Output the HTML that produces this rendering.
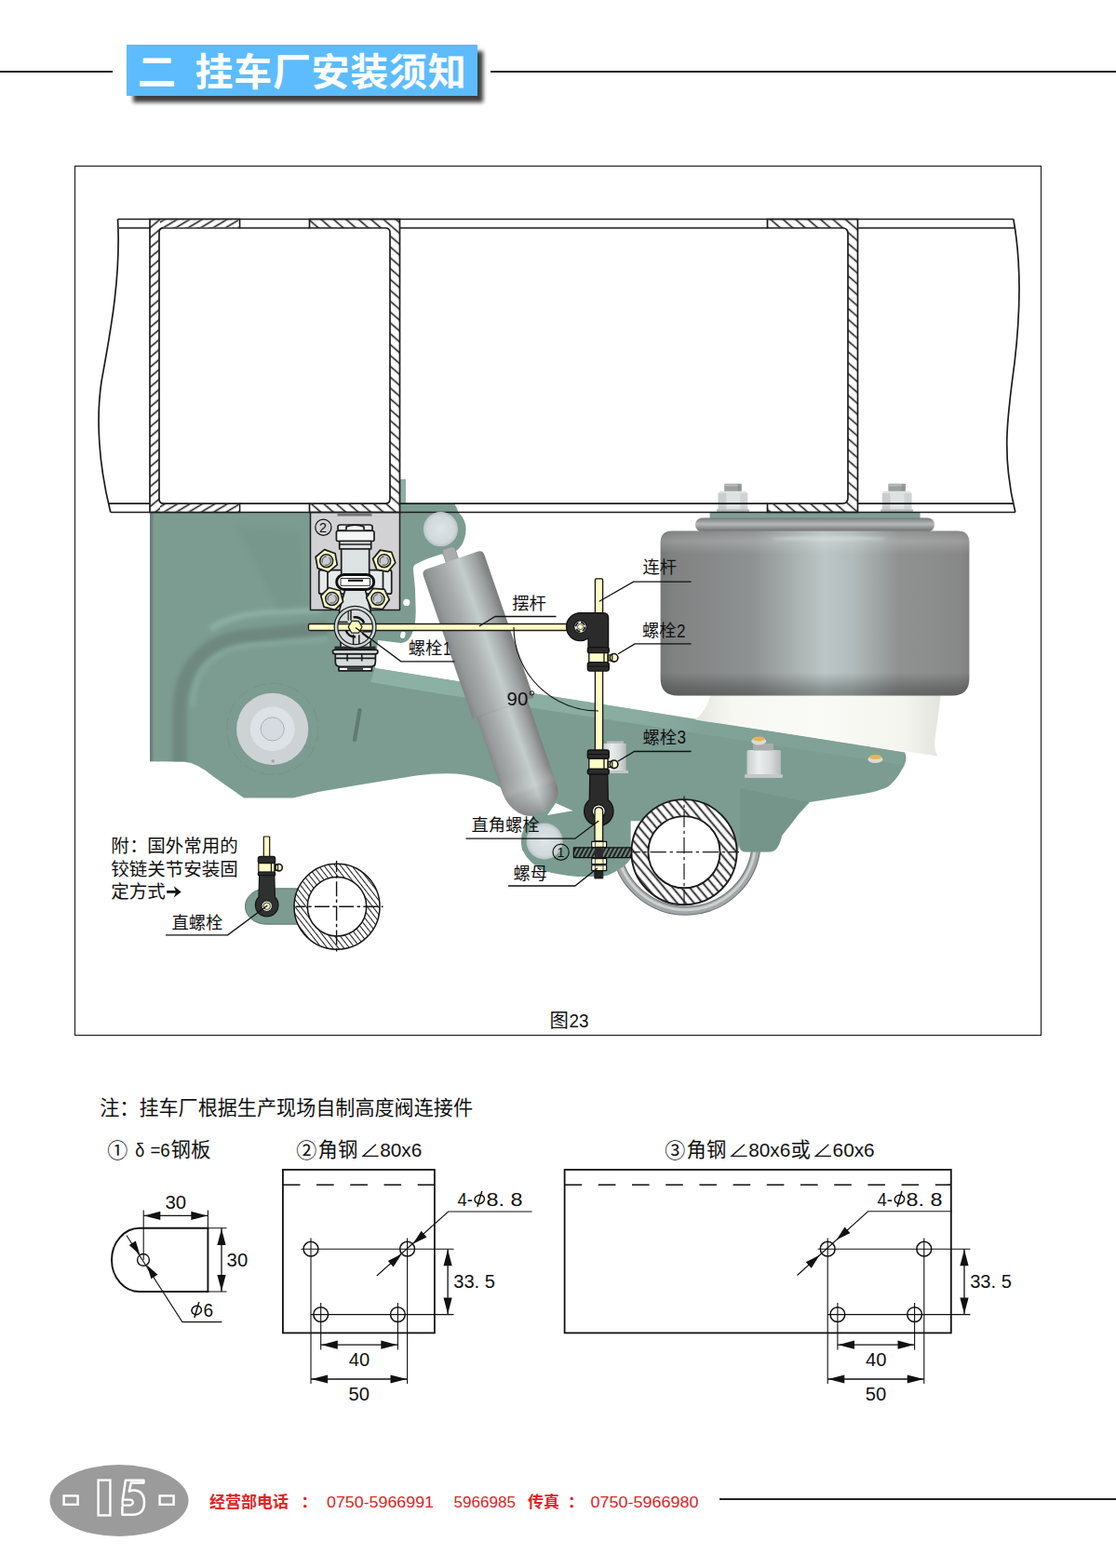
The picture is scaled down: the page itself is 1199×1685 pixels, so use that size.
<!DOCTYPE html>
<html lang="zh"><head><meta charset="utf-8"><title>二 挂车厂安装须知</title>
<style>
html,body{margin:0;padding:0;background:#fff}
body{width:1199px;height:1685px;overflow:hidden;font-family:"Liberation Sans","Noto Sans CJK SC",sans-serif}
svg{display:block}
svg text{font-family:"Liberation Sans","Noto Sans CJK SC",sans-serif}
</style></head><body>
<svg width="1199" height="1685" viewBox="0 0 1199 1685">
<defs>
<filter id="blur3" x="-10%" y="-20%" width="120%" height="150%"><feGaussianBlur stdDeviation="2.2"/></filter>
<pattern id="hL" patternUnits="userSpaceOnUse" width="8.20" height="8.20" patternTransform="rotate(-40.0)"><rect width="8.20" height="8.20" fill="#fff"/><line x1="0" y1="4.10" x2="8.20" y2="4.10" stroke="#1c1c1c" stroke-width="1.60"/></pattern><pattern id="hTL" patternUnits="userSpaceOnUse" width="6.90" height="6.90" patternTransform="rotate(-31.0)"><rect width="6.90" height="6.90" fill="#fff"/><line x1="0" y1="3.45" x2="6.90" y2="3.45" stroke="#1c1c1c" stroke-width="1.60"/></pattern><pattern id="hR" patternUnits="userSpaceOnUse" width="8.80" height="8.80" patternTransform="rotate(41.0)"><rect width="8.80" height="8.80" fill="#fff"/><line x1="0" y1="4.40" x2="8.80" y2="4.40" stroke="#1c1c1c" stroke-width="1.60"/></pattern><pattern id="hTR" patternUnits="userSpaceOnUse" width="7.60" height="7.60" patternTransform="rotate(35.0)"><rect width="7.60" height="7.60" fill="#fff"/><line x1="0" y1="3.80" x2="7.60" y2="3.80" stroke="#1c1c1c" stroke-width="1.60"/></pattern><pattern id="hAx" patternUnits="userSpaceOnUse" width="7.00" height="7.00" patternTransform="rotate(50.0)"><rect width="7.00" height="7.00" fill="#fff"/><line x1="0" y1="3.50" x2="7.00" y2="3.50" stroke="#1c1c1c" stroke-width="1.80"/></pattern><pattern id="hAx2" patternUnits="userSpaceOnUse" width="4.70" height="4.70" patternTransform="rotate(52.0)"><rect width="4.70" height="4.70" fill="#fff"/><line x1="0" y1="2.35" x2="4.70" y2="2.35" stroke="#1a1a1a" stroke-width="1.00"/></pattern><pattern id="hPl" patternUnits="userSpaceOnUse" width="4" height="4" patternTransform="rotate(-62)"><rect width="4" height="4" fill="#6d877e"/><line x1="0" y1="2" x2="4" y2="2" stroke="#111" stroke-width="1.7"/></pattern><linearGradient id="gAir" x1="0" x2="1" y1="0" y2="0"><stop offset="0" stop-color="#777"/><stop offset="0.04" stop-color="#808282"/><stop offset="0.3" stop-color="#8f9292"/><stop offset="0.53" stop-color="#bcc6c6"/><stop offset="0.62" stop-color="#b2bbbb"/><stop offset="0.77" stop-color="#909292"/><stop offset="0.97" stop-color="#888"/><stop offset="1" stop-color="#808080"/></linearGradient><linearGradient id="gAirV" x1="0" x2="0" y1="0" y2="1"><stop offset="0" stop-color="#fff" stop-opacity="0.0"/><stop offset="0.06" stop-color="#fff" stop-opacity="0.18"/><stop offset="0.14" stop-color="#fff" stop-opacity="0"/><stop offset="0.86" stop-color="#000" stop-opacity="0"/><stop offset="0.95" stop-color="#000" stop-opacity="0.22"/><stop offset="1" stop-color="#000" stop-opacity="0.3"/></linearGradient><linearGradient id="gBead" x1="0" x2="0" y1="0" y2="1"><stop offset="0" stop-color="#777"/><stop offset="0.45" stop-color="#b5b9b9"/><stop offset="1" stop-color="#6a6a6a"/></linearGradient><linearGradient id="gShock" x1="0" x2="1" y1="0" y2="0"><stop offset="0" stop-color="#838585"/><stop offset="0.1" stop-color="#949797"/><stop offset="0.35" stop-color="#a9adad"/><stop offset="0.6" stop-color="#c4cccc"/><stop offset="0.85" stop-color="#9c9f9f"/><stop offset="1" stop-color="#7a7b7b"/></linearGradient><linearGradient id="gShock2" gradientUnits="userSpaceOnUse" x1="-30.3" x2="27.6" y1="0" y2="0"><stop offset="0" stop-color="#878989"/><stop offset="0.1" stop-color="#979a9a"/><stop offset="0.35" stop-color="#abafaf"/><stop offset="0.62" stop-color="#c4cccc"/><stop offset="0.86" stop-color="#9c9f9f"/><stop offset="1" stop-color="#7d7e7e"/></linearGradient><linearGradient id="gDome" gradientUnits="userSpaceOnUse" x1="0" x2="0" y1="240" y2="289"><stop offset="0" stop-color="#fff" stop-opacity="0"/><stop offset="0.35" stop-color="#fff" stop-opacity="0.12"/><stop offset="0.55" stop-color="#666" stop-opacity="0.05"/><stop offset="1" stop-color="#555" stop-opacity="0.45"/></linearGradient><linearGradient id="gPiston" x1="0" x2="1" y1="0" y2="0"><stop offset="0" stop-color="#e6e6e0"/><stop offset="0.15" stop-color="#f8f8f3"/><stop offset="0.5" stop-color="#fafaf6"/><stop offset="0.85" stop-color="#f5f5ef"/><stop offset="1" stop-color="#e2e2de"/></linearGradient><linearGradient id="gUb" x1="0" x2="1" y1="0" y2="0"><stop offset="0" stop-color="#8c8f8f"/><stop offset="0.5" stop-color="#c9cccc"/><stop offset="1" stop-color="#8c8f8f"/></linearGradient><radialGradient id="gBolt" cx="0.5" cy="0.5" r="0.5"><stop offset="0" stop-color="#dfe5e8"/><stop offset="0.8" stop-color="#d0d8da"/><stop offset="1" stop-color="#b9c4c4"/></radialGradient><linearGradient id="gNut" x1="0" x2="1" y1="0" y2="0"><stop offset="0" stop-color="#c9cdcd"/><stop offset="0.35" stop-color="#eceeee"/><stop offset="0.7" stop-color="#d6dada"/><stop offset="1" stop-color="#b5baba"/></linearGradient><linearGradient id="gBand" gradientUnits="userSpaceOnUse" x1="400" x2="980" y1="0" y2="0"><stop offset="0" stop-color="#8fb2a6" stop-opacity="0.95"/><stop offset="0.5" stop-color="#8db0a4" stop-opacity="0.8"/><stop offset="0.62" stop-color="#8db0a4" stop-opacity="0.3"/><stop offset="1" stop-color="#8db0a4" stop-opacity="0.25"/></linearGradient><filter id="soft" x="-20%" y="-20%" width="140%" height="140%"><feGaussianBlur stdDeviation="3"/></filter><filter id="soft2" x="-20%" y="-20%" width="140%" height="140%"><feGaussianBlur stdDeviation="2"/></filter><filter id="soft1" x="-20%" y="-20%" width="140%" height="140%"><feGaussianBlur stdDeviation="1.2"/></filter>
</defs>
<rect width="1199" height="1685" fill="#fff"/>
<g id="header">
<rect x="0" y="76" width="121" height="2" fill="#222"/>
<rect x="527" y="76" width="672" height="2" fill="#222"/>
<rect x="143" y="55" width="376" height="55" fill="#2a2a2a" filter="url(#blur3)" opacity="0.9"/>
<rect x="136" y="48" width="377" height="55" fill="#5cbcfd"/>
</g>
<text x="148" y="92" font-size="41" font-weight="bold" fill="#fff">二</text>
<text x="209.5" y="92" font-size="41" font-weight="bold" fill="#fff" textLength="291.2" lengthAdjust="spacing">挂车厂安装须知</text>
<rect x="80.5" y="178.5" width="1038" height="934" fill="none" stroke="#222" stroke-width="1.2"/>
<path d="M662.6,918 A75.9,75.9 0 0 0 812.6,909" fill="none" stroke="#6f7272" stroke-width="10"/>
<path d="M662.6,918 A75.9,75.9 0 0 0 812.6,909" fill="none" stroke="#a3a7a7" stroke-width="8"/>
<path d="M663.6,918 A74.9,74.9 0 0 0 811.6,909" fill="none" stroke="#cdd1d1" stroke-width="3"/>
<g id="green">
<rect x="430" y="515" width="6" height="37" fill="#8db0a4"/>
<path d="M161,550.5 L430,550.5 L430,541.2 L488,541.2 Q491,545 492.5,550.7 C498,556 501,562 500.5,570 C500,580 496,588 490,592 L480,596 L474,595.4 L459,600.5 L448,605.4 Q443.5,607 444,612 L446,633 L446.7,657 Q446.5,673 443.4,679 Q440,690 431,691 L406,688 L403,718 L972,808.5 Q976,816 969,827 Q962,840 953,846 Q940,852 912,855.5 L870,862 Q858,874 848,888 L840,898 Q838.5,906 835,911 Q832,915.6 826,915.6 L801,915.6 Q794,915 794,908 L793,915 L737,915 L680,915 L679,921 Q672,931 665,934 Q656,941 645,942 L620,942 Q600,940 585,936 Q568,928 561,913 Q558,900 563,890 L572,878 L560,860 L530,841.5 Q510,833 490,831.5 Q470,830.5 447,833.5 L390,842.8 L342,851 L315,857.5 L262,857.5 L230,835 Q212,820 198,818.6 L161,818.3 Z" fill="#7c9c91"/>
<clipPath id="cpG"><path d="M161,550.5 L430,550.5 L430,541.2 L488,541.2 Q491,545 492.5,550.7 C498,556 501,562 500.5,570 C500,580 496,588 490,592 L480,596 L474,595.4 L459,600.5 L448,605.4 Q443.5,607 444,612 L446,633 L446.7,657 Q446.5,673 443.4,679 Q440,690 431,691 L406,688 L403,718 L972,808.5 Q976,816 969,827 Q962,840 953,846 Q940,852 912,855.5 L870,862 Q858,874 848,888 L840,898 Q838.5,906 835,911 Q832,915.6 826,915.6 L801,915.6 Q794,915 794,908 L793,915 L737,915 L680,915 L679,921 Q672,931 665,934 Q656,941 645,942 L620,942 Q600,940 585,936 Q568,928 561,913 Q558,900 563,890 L572,878 L560,860 L530,841.5 Q510,833 490,831.5 Q470,830.5 447,833.5 L390,842.8 L342,851 L315,857.5 L262,857.5 L230,835 Q212,820 198,818.6 L161,818.3 Z"/></clipPath>
</g>
<g id="hangerdet">
<g clip-path="url(#cpG)">
<path d="M193,824 L193,765 C193,722 215,690 262,684 L352,675" fill="none" stroke="#6d857d" stroke-width="15" filter="url(#soft2)" opacity="0.85"/>
<path d="M226,676 C243,664 265,659 300,657.6 L345,655.6" fill="none" stroke="#93b5a9" stroke-width="7" filter="url(#soft2)" opacity="0.75"/>
<path d="M207,760 C207,722 228,698 268,693.6 L352,686.6" fill="none" stroke="#8bada1" stroke-width="6" filter="url(#soft2)" opacity="0.6"/>
<rect x="160" y="550" width="4" height="270" fill="#66787a" filter="url(#soft1)" opacity="0.9"/>
<rect x="166.5" y="550" width="4.5" height="270" fill="#829f8c" opacity="0.7" filter="url(#soft1)"/>
<path d="M255,566 L322,572 L330,650 L300,655 Z" fill="#6f8d83" opacity="0.32" filter="url(#soft)"/>
</g>
<path d="M386.5,763 L381,795" stroke="#5f776f" stroke-width="4.2" stroke-linecap="round" opacity="0.9"/>
<circle cx="292.7" cy="783.4" r="49" fill="none" stroke="#6e8b82" stroke-width="0.8" stroke-dasharray="14 5" opacity="0.7"/>
<circle cx="292.7" cy="783.4" r="40.4" fill="#7f9a92"/>
<circle cx="292.7" cy="783.4" r="38.6" fill="#cdd3d4"/>
<circle cx="292.7" cy="783.4" r="24" fill="#dde2e7"/>
<circle cx="292.7" cy="783.4" r="12.6" fill="#d5dbe0" stroke="#a9b2b8" stroke-width="1"/>
<rect x="291.7" y="816.4" width="3" height="3" fill="#9aa3a3"/>
<circle cx="436.8" cy="647.4" r="3.6" fill="#fff"/>
<rect x="430.4" y="678.6" width="5" height="7.4" rx="2.4" fill="#fff" transform="rotate(12 433 682)"/>
</g>
<path d="M403,718 L972,808.5 L970,822 L470,745 L398,733 Z" fill="url(#gBand)"/>
<path d="M795,847 L868,862 Q858,874 848,888 L840,898 Q838.5,906 835,911 Q832,915.6 826,915.6 L801,915.6 Q795,915 795,908 Z" fill="#6b897f" opacity="0.35"/>
<rect x="802.5" y="806" width="36.5" height="27" rx="2" fill="url(#gNut)"/>
<rect x="800" y="832" width="41" height="4" rx="1.5" fill="#c2c7c7"/>
<rect x="809" y="799" width="22" height="7.5" fill="#a9adad"/>
<ellipse cx="815.2" cy="796.5" rx="8" ry="4" fill="#d9dcdc"/>
<ellipse cx="815.2" cy="794.0" rx="6.5" ry="2.6" fill="#e9b44a"/>
<ellipse cx="940.4" cy="816.0" rx="8" ry="4" fill="#d9dcdc"/>
<ellipse cx="940.4" cy="813.5" rx="6.5" ry="2.6" fill="#e9b44a"/>
<polygon points="588,876 597,863 615.5,871.3" fill="#fff"/>
<polygon points="677.6,882.2 696,882.2 690,900 681,911 677.6,911" fill="#fff"/>
<g id="air">
<path d="M763.5,740 L1011.6,740 L1004,798 Q1004,806 1007,812.6 L747,773.6 Q758,765 763.5,747 Z" fill="url(#gPiston)"/>
<rect x="778.2" y="519.8" width="18.4" height="9.4" rx="1" fill="#9c9f9f"/>
<rect x="778.2" y="520.4" width="18.4" height="2" fill="#b9bcbc"/>
<rect x="792.6" y="520" width="4" height="9" fill="#858888" opacity="0.6"/>
<path d="M771.6,530 L773.9,527.8 H800.9 L803.2,530 V547.6 H771.6 Z" fill="#dfe2e2"/>
<rect x="771.6" y="530" width="8.6" height="17.6" fill="#c9cdcd"/>
<rect x="795.2" y="530" width="8" height="17.6" fill="#cfd3d3"/>
<rect x="769.9" y="547.2" width="35" height="3.4" rx="1" fill="#b4b9b9"/>
<rect x="954.4" y="519.8" width="18.4" height="9.4" rx="1" fill="#9c9f9f"/>
<rect x="954.4" y="520.4" width="18.4" height="2" fill="#b9bcbc"/>
<rect x="968.8" y="520" width="4" height="9" fill="#858888" opacity="0.6"/>
<path d="M947.8,530 L950.1,527.8 H977.1 L979.4,530 V547.6 H947.8 Z" fill="#dfe2e2"/>
<rect x="947.8" y="530" width="8.6" height="17.6" fill="#c9cdcd"/>
<rect x="971.4" y="530" width="8" height="17.6" fill="#cfd3d3"/>
<rect x="946.1" y="547.2" width="35" height="3.4" rx="1" fill="#b4b9b9"/>
<rect x="762.6" y="550.6" width="226" height="6.6" fill="#7fa094"/>
<rect x="747" y="556.4" width="257" height="15" rx="7.5" fill="url(#gBead)"/>
<path d="M722,570.4 H1029 Q1041.4,570.4 1041.4,583 V729 Q1041.4,747.5 1023,747.5 H728 Q709.6,747.5 709.6,729 V583 Q709.6,570.4 722,570.4 Z" fill="url(#gAir)"/>
<path d="M722,570.4 H1029 Q1041.4,570.4 1041.4,583 V729 Q1041.4,747.5 1023,747.5 H728 Q709.6,747.5 709.6,729 V583 Q709.6,570.4 722,570.4 Z" fill="url(#gAirV)"/>
<ellipse cx="890" cy="578.5" rx="62" ry="2.2" fill="#e4ecec" opacity="0.35" filter="url(#soft1)"/>
</g>
<g id="beam">
<path d="M161,235.5 H257.5 V245 H176 Q171,245 171,250 V536 Q171,541.2 176,541.2 H257.5 V550.5 H161 Z" fill="url(#hL)" stroke="#1c1c1c" stroke-width="1.7" />
<path d="M332.5,235.5 H429.5 V550.5 H332.5 V541.2 H414 Q419,541.2 419,536 V250 Q419,245 414,245 H332.5 Z" fill="url(#hR)" stroke="#1c1c1c" stroke-width="1.7" />
<rect x="172" y="236.3" width="84.6" height="7.9" fill="url(#hTL)"/>
<rect x="172" y="542" width="84.6" height="7.7" fill="url(#hTL)"/>
<path d="M824.5,235.5 H921.5 V550.5 H824.5 V541.2 H905 Q911,541.2 911,535 V251 Q911,245 905,245 H824.5 Z" fill="url(#hR)" stroke="#1c1c1c" stroke-width="1.7" />
<path d="M126.5,235.5 H1088.8 M128,245 H161 M257.5,245 H332.5 M429.5,245 H824.5 M921.5,245 H1090 M116.5,541.2 H161 M257.5,541.2 H332.5 M429.5,541.2 H824.5 M921.5,541.2 H1088.5 M118.8,550.5 H1090.8" stroke="#1c1c1c" stroke-width="1.7" fill="none"/>
<path d="M126.5,235.5 C130,300 118,360 109,410 C103,450 106,500 118.8,550.5" stroke="#1c1c1c" stroke-width="1.7" fill="none"/>
<path d="M1088.8,235.5 C1097,280 1097,330 1090,390 C1082,450 1076,490 1090.8,550.5" stroke="#1c1c1c" stroke-width="1.7" fill="none"/>
</g>
<circle cx="473.4" cy="568.7" r="18.6" fill="url(#gBolt)"/>
<circle cx="585.0" cy="904.0" r="19.6" fill="url(#gBolt)"/>
<g id="valve" stroke-linejoin="round">
<rect x="333.5" y="550.8" width="96" height="104.6" fill="#d2d1d3" stroke="#1c1c1c" stroke-width="1.5"/>
<rect x="362.5" y="552" width="37" height="2.6" fill="#777"/>
<rect x="342.7" y="612.7" width="78" height="25.5" rx="2" fill="#e6eaea" stroke="#1c1c1c" stroke-width="1.7"/>
<path d="M352,612.7 V638 M411.5,612.7 V638" stroke="#1c1c1c" stroke-width="1.7" fill="none"/>
<path d="M363,570 V566 Q363,564 366,564 H397 Q400,564 400,566 V570 Z" fill="#f4f6f6" stroke="#1c1c1c" stroke-width="1.7"/>
<path d="M372,569.6 V566 Q381,562.4 391,566 V569.6" fill="#f4f6f6" stroke="#1c1c1c" stroke-width="1.7"/>
<rect x="361.4" y="570.5" width="40.6" height="11" rx="1.5" fill="#f4f6f6" stroke="#1c1c1c" stroke-width="1.7"/>
<rect x="364.7" y="581.5" width="34" height="8.5" fill="#dde3e3" stroke="#1c1c1c" stroke-width="1.7"/>
<path d="M364.7,585 H398.7" stroke="#1c1c1c" stroke-width="1.7"/>
<rect x="366.7" y="590" width="30" height="30" fill="#dde3e3" stroke="#1c1c1c" stroke-width="1.7"/>
<path d="M370.7,634 L392.5,634 L398,655.5 L398.5,662 L364.5,662 L364.7,655.5 Z" fill="#dde3e3" stroke="#1c1c1c" stroke-width="1.7"/>
<rect x="361.7" y="617.4" width="40" height="16" rx="8" fill="#fff" stroke="#111" stroke-width="3"/>
<rect x="366" y="621.5" width="31.5" height="7.8" fill="#fff" stroke="#111" stroke-width="0.9"/>
<rect x="374" y="622.6" width="16" height="2.4" fill="#222"/>
<polygon points="362.3,606.9 352.8,614.8 341.3,610.6 339.1,598.5 348.6,590.6 360.1,594.8" fill="#ffffc8" stroke="#1c1c1c" stroke-width="1.7"/>
<circle cx="350.7" cy="602.7" r="7" fill="#c9cccf" stroke="#222" stroke-width="1.5"/>
<circle cx="350.7" cy="602.7" r="4.6" fill="none" stroke="#333" stroke-width="0.9" stroke-dasharray="9 3"/>
<polygon points="424.8,604.8 416.9,614.3 404.8,612.1 400.6,600.6 408.5,591.1 420.6,593.3" fill="#ffffc8" stroke="#1c1c1c" stroke-width="1.7"/>
<circle cx="412.7" cy="602.7" r="7" fill="#c9cccf" stroke="#222" stroke-width="1.5"/>
<circle cx="412.7" cy="602.7" r="4.6" fill="none" stroke="#333" stroke-width="0.9" stroke-dasharray="9 3"/>
<polygon points="368.6,646.6 359.9,655.3 348.0,652.1 344.8,640.2 353.5,631.5 365.4,634.7" fill="#ffffc8" stroke="#1c1c1c" stroke-width="1.7"/>
<circle cx="356.7" cy="643.4" r="7" fill="#c9cccf" stroke="#222" stroke-width="1.5"/>
<circle cx="356.7" cy="643.4" r="4.6" fill="none" stroke="#333" stroke-width="0.9" stroke-dasharray="9 3"/>
<polygon points="418.3,644.5 411.2,654.5 398.9,653.5 393.7,642.3 400.8,632.3 413.1,633.3" fill="#ffffc8" stroke="#1c1c1c" stroke-width="1.7"/>
<circle cx="406.0" cy="643.4" r="7" fill="#c9cccf" stroke="#222" stroke-width="1.5"/>
<circle cx="406.0" cy="643.4" r="4.6" fill="none" stroke="#333" stroke-width="0.9" stroke-dasharray="9 3"/>
<path d="M366,686 H398 V697 H366 Z" fill="#dde3e3" stroke="#1c1c1c" stroke-width="1.7"/>
<rect x="359.5" y="694.6" width="44" height="3.4" fill="#2a2a2a"/>
<rect x="357.5" y="698.4" width="48.4" height="4.2" rx="2" fill="#e4e8e8" stroke="#1c1c1c" stroke-width="1.7"/>
<path d="M360.3,703 H403.4 V711 Q403.4,716.4 398,716.4 H365.6 Q360.3,716.4 360.3,711 Z" fill="#d6dbdb" stroke="#1c1c1c" stroke-width="1.7"/>
<path d="M360.6,707.4 H403 M373.1,703 V710.6 M388.7,703 V710.6" fill="none" stroke="#1c1c1c" stroke-width="1.6"/>
<rect x="364" y="717" width="35.4" height="3.8" fill="#fff" stroke="#1c1c1c" stroke-width="1.7"/>
<rect x="373" y="718" width="17" height="1.8" fill="#333"/>
</g>
<g id="shock" transform="translate(485.75 602.05) rotate(-19.00)">
<rect x="-7" y="-14" width="14" height="18" rx="3" fill="#a9adad" stroke="#888" stroke-width="0.6"/>
<path d="M-30.3,160 H27.6 V266 C27.6,282 10,288.4 -3,288.4 C-16,288.4 -30.3,275 -30.3,252 Z" fill="url(#gShock2)"/>
<path d="M-30.3,240 H27.6 V266 C27.6,282 10,288.4 -3,288.4 C-16,288.4 -30.3,275 -30.3,252 Z" fill="url(#gDome)"/>
<path d="M-34.7,6 Q-34.7,0 -28.7,0 H28.7 Q34.7,0 34.7,6 V168 H-34.7 Z" fill="url(#gShock)"/>
<path d="M-34.7,168 H34.7" stroke="#7e8282" stroke-width="0.8" opacity="0.25"/>
</g>
<g id="axle">
<circle cx="735.0" cy="915.7" r="56.6" fill="url(#hAx)" stroke="#1c1c1c" stroke-width="1.9"/>
<circle cx="735.0" cy="915.7" r="38.6" fill="#fff" stroke="#1c1c1c" stroke-width="1.9"/>
<path d="M679.4,915.7 H794" stroke="#1c1c1c" stroke-width="1.2" stroke-dasharray="17.4 3.7 3.3 3.7" stroke-dashoffset="9" fill="none"/>
<path d="M735.0,855.6 V973" stroke="#1c1c1c" stroke-width="1.2" stroke-dasharray="17.4 3.7 3.3 3.7" stroke-dashoffset="12" fill="none"/>
</g>
<circle cx="381.6" cy="673.8" r="20" fill="#d6dbdb"/>
<rect x="331.5" y="670.5" width="278" height="7" rx="1.5" fill="#fffbc4" stroke="#1c1c1c" stroke-width="1.3"/>
<g id="wheel">
<line x1="377.0" y1="654.3" x2="377.0" y2="666.8" stroke="#1c1c1c" stroke-width="1.5"/>
<line x1="379.6" y1="681.8" x2="379.6" y2="693.3" stroke="#1c1c1c" stroke-width="1.5"/>
<line x1="385.8" y1="682.3" x2="385.8" y2="692.8" stroke="#1c1c1c" stroke-width="1.5"/>
<line x1="362.1" y1="668.4" x2="373.6" y2="668.4" stroke="#1c1c1c" stroke-width="1.5"/>
<line x1="389.6" y1="678.8" x2="401.1" y2="678.8" stroke="#1c1c1c" stroke-width="1.5"/>
<line x1="389.0" y1="680.4" x2="397.6" y2="687.4" stroke="#1c1c1c" stroke-width="1.5"/>
<line x1="374.2" y1="654.8" x2="374.2" y2="666.8" stroke="#1c1c1c" stroke-width="1.2"/>
<circle cx="381.6" cy="673.8" r="20.6" fill="none" stroke="#1c1c1c" stroke-width="4.9"/>
<circle cx="381.6" cy="673.8" r="20.6" fill="none" stroke="#cfd6d4" stroke-width="2.5"/>
<path d="M379.6,663.4 A10.6,10.6 0 0 1 391.2,669.4" fill="none" stroke="#111" stroke-width="2.4"/>
<path d="M382.1,684.4 A10.6,10.6 0 0 1 371.6,677.4" fill="none" stroke="#111" stroke-width="2.4"/>
<polygon points="389.0,673.8 385.3,680.2 377.9,680.2 374.2,673.8 377.9,667.4 385.3,667.4" fill="#ffffb8" stroke="#222" stroke-width="1.2"/>
</g>
<g id="link" stroke-linejoin="round">
<rect x="639.4" y="621.8" width="8.2" height="40" rx="1.5" fill="#fffbc4" stroke="#121212" stroke-width="1.3"/>
<rect x="639.4" y="720" width="8.2" height="90" fill="#fffbc4" stroke="#121212" stroke-width="1.3"/>
<path d="M623.5,658.6 H648 Q653.6,658.6 653.6,664 V697 H632 V686 Q628,688.6 623.5,688.6 A15,15 0 0 1 623.5,658.6 Z" fill="#2b2b2b" stroke="#121212" stroke-width="1.3"/>
<circle cx="623.5" cy="673.6" r="6.8" fill="#f2f2f2" stroke="#121212" stroke-width="1.2"/>
<circle cx="623.5" cy="673.6" r="4.9" fill="none" stroke="#111" stroke-width="1.6" stroke-dasharray="5 2.7"/>
<circle cx="623.5" cy="673.6" r="3" fill="#fffbc4" stroke="#222" stroke-width="0.8"/>
<rect x="631.3" y="695.6" width="23" height="6.5" rx="2.5" fill="#2b2b2b" stroke="#121212" stroke-width="1.3"/>
<rect x="632.8" y="701.6" width="20.2" height="10.5" fill="#ffffc6" stroke="#121212" stroke-width="1.3"/>
<path d="M649,701.6 V712.1" stroke="#121212" stroke-width="1.3"/>
<rect x="631.3" y="711.6" width="23" height="9.5" rx="2.5" fill="#2b2b2b" stroke="#121212" stroke-width="1.3"/>
<path d="M632,716.1 H654" stroke="#111" stroke-width="1"/>
<rect x="653.5" y="703.8" width="4" height="6" fill="#ffffc6" stroke="#121212" stroke-width="1.3"/>
<circle cx="659.6" cy="706.8" r="4.3" fill="#ffffc6" stroke="#121212" stroke-width="1.6"/>
<path d="M657.8,703.2 V710.4" stroke="#121212" stroke-width="1.2"/>
<path d="M652,799 H670 V796.5 H652 Z" fill="#b9bdbd"/>
<rect x="648.6" y="799" width="24" height="30.5" fill="url(#gNut)"/>
<rect x="646" y="828" width="29" height="3" fill="#c2c7c7"/>
<rect x="631.3" y="806" width="23" height="9.5" rx="2.5" fill="#2b2b2b" stroke="#121212" stroke-width="1.3"/>
<path d="M632,810.5 H654" stroke="#111" stroke-width="1"/>
<rect x="632.8" y="815.3" width="20.2" height="11.2" fill="#ffffc6" stroke="#121212" stroke-width="1.3"/>
<path d="M649,815.3 V826.5" stroke="#121212" stroke-width="1.3"/>
<rect x="653.5" y="818.3" width="4" height="6" fill="#ffffc6" stroke="#121212" stroke-width="1.3"/>
<circle cx="659.6" cy="821.3" r="4.3" fill="#ffffc6" stroke="#121212" stroke-width="1.6"/>
<path d="M657.8,817.7 V824.9" stroke="#121212" stroke-width="1.2"/>
<rect x="631.3" y="826.3" width="23" height="6" rx="2.5" fill="#2b2b2b" stroke="#121212" stroke-width="1.3"/>
<path d="M633.8,832 H652.8 L653.3,859.6 A15.7,15.7 0 1 1 633.3,859.6 Z" fill="#2b2b2b" stroke="#121212" stroke-width="1.3"/>
<circle cx="643.3" cy="871.8" r="7" fill="#f6f6f6" stroke="#121212" stroke-width="1.2"/>
<path d="M639,872 Q639,867.6 643.3,867.6 Q647.6,867.6 647.6,872 V904 H639 Z" fill="#fffbc4" stroke="#121212" stroke-width="1.3"/>
<rect x="635.8" y="904.4" width="15.8" height="6.0" fill="#ffffc6" stroke="#121212" stroke-width="1.3"/>
<rect x="636.6" y="905.2" width="2.4" height="4.4" fill="#fff"/><rect x="648.4" y="905.2" width="2.4" height="4.4" fill="#fff"/>
<path d="M639.4,904.4 V910.4 M648,904.4 V910.4" stroke="#222" stroke-width="0.8"/>
<rect x="616.4" y="910.8" width="62" height="10.8" fill="url(#hPl)" stroke="#111" stroke-width="1.3"/>
<rect x="638.8" y="910.8" width="9" height="10.8" fill="#2a2a2a"/>
<rect x="635.8" y="922.6" width="15.8" height="6.0" fill="#ffffc6" stroke="#121212" stroke-width="1.3"/>
<rect x="636.6" y="923.4" width="2.4" height="4.4" fill="#fff"/><rect x="648.4" y="923.4" width="2.4" height="4.4" fill="#fff"/>
<path d="M639.4,922.6 V928.6 M648,922.6 V928.6" stroke="#222" stroke-width="0.8"/>
<rect x="635.8" y="929.8" width="15.8" height="5.8" fill="#ffffc6" stroke="#121212" stroke-width="1.3"/>
<rect x="636.6" y="930.6" width="2.4" height="4.2" fill="#fff"/><rect x="648.4" y="930.6" width="2.4" height="4.2" fill="#fff"/>
<path d="M639.4,929.8 V935.6 M648,929.8 V935.6" stroke="#222" stroke-width="0.8"/>
<rect x="638.8" y="935.6" width="9" height="8.4" fill="#222" stroke="#111" stroke-width="0.8"/>
</g>
<g id="inset" stroke-linejoin="round">
<path d="M286,954.8 H322 V993.2 H286 A22.6,19.2 0 0 1 286,954.8 Z" fill="#7c9c91" stroke="#4d625b" stroke-width="0.8"/>
<circle cx="362.0" cy="974.2" r="46" fill="url(#hAx2)" stroke="#151515" stroke-width="1.5"/>
<circle cx="362.0" cy="974.2" r="31.7" fill="#fff" stroke="#151515" stroke-width="1.5"/>
<path d="M317.8,974.2 H411.6" stroke="#151515" stroke-width="1.4" stroke-dasharray="16 3.4 3.4 3.4" stroke-dashoffset="6" fill="none"/>
<path d="M361.6,925 V1023.8" stroke="#151515" stroke-width="1.4" stroke-dasharray="16 3.4 3.4 3.4" stroke-dashoffset="4" fill="none"/>
<rect x="283.3" y="899" width="6.4" height="23" rx="0.8" fill="#fffbc4" stroke="#151515" stroke-width="1.2"/>
<rect x="277.3" y="920.4" width="18.4" height="7.4" rx="2.4" fill="#2b2b2b" stroke="#151515" stroke-width="1.2"/>
<rect x="277.8" y="927.6" width="17.4" height="9.8" fill="#ffffc6" stroke="#151515" stroke-width="1.2"/>
<path d="M291.4,927.6 V937.4" stroke="#151515" stroke-width="1.2"/>
<rect x="295" y="928.8" width="3.4" height="6.6" fill="#2b2b2b" stroke="#151515" stroke-width="1.2"/>
<circle cx="299.6" cy="932.2" r="3.7" fill="#ffffc6" stroke="#151515" stroke-width="1.6"/>
<path d="M298.6,929 V935.4" stroke="#151515" stroke-width="1.1"/>
<rect x="277.3" y="937" width="18.4" height="4" rx="1.6" fill="#2b2b2b" stroke="#151515" stroke-width="1.2"/>
<path d="M278.6,940.6 H294.8 L295.4,964 A12.3,12.3 0 1 1 278,964 Z" fill="#2f3131" stroke="#151515" stroke-width="1.2"/>
<circle cx="286.7" cy="973.7" r="5.7" fill="#f3f3f3" stroke="#151515" stroke-width="1"/>
<circle cx="286.7" cy="973.7" r="3.7" fill="#fffbc4" stroke="#222" stroke-width="0.9"/>
</g>
<g id="leaders">
<path d="M643.8,646.2 L680.6,625.2 H742.6" stroke="#111" stroke-width="1.3" fill="none"/>
<path d="M664,702.8 L682,691.9 H742.6" stroke="#111" stroke-width="1.3" fill="none"/>
<path d="M663.6,818.3 L681.6,807.5 H742.6" stroke="#111" stroke-width="1.3" fill="none"/>
<path d="M514.8,673 L532,662.5 H597.5" stroke="#111" stroke-width="1.3" fill="none"/>
<path d="M382,674.5 L430.8,710.8 H488.5" stroke="#111" stroke-width="1.3" fill="none"/>
<path d="M643.3,882 L617.8,901.2 H500.5" stroke="#111" stroke-width="1.3" fill="none"/>
<path d="M641.8,933 L617.8,952 H546" stroke="#111" stroke-width="1.3" fill="none"/>
<path d="M287.4,973 L244.6,1004.8 H178" stroke="#111" stroke-width="1.3" fill="none"/>
<path d="M552,674 A91,90 0 0 0 643,764" stroke="#111" stroke-width="1.1" fill="none"/>
<circle cx="347.4" cy="566.7" r="8.6" fill="none" stroke="#111" stroke-width="1.2"/>
<circle cx="602.6" cy="915.7" r="8.6" fill="none" stroke="#111" stroke-width="1.2"/>
</g>
<text x="690.4" y="616.2" font-size="18.3" fill="#111">连杆</text>
<text x="690.0" y="684.2" font-size="18.3" fill="#111">螺栓</text>
<text x="727.1" y="684.6" font-size="20.0" fill="#111" text-anchor="start" textLength="9.5" lengthAdjust="spacingAndGlyphs">2</text>
<text x="690.4" y="799.0" font-size="18.3" fill="#111">螺栓</text>
<text x="727.5" y="799.4" font-size="20.0" fill="#111" text-anchor="start" textLength="9.5" lengthAdjust="spacingAndGlyphs">3</text>
<text x="550.3" y="655.0" font-size="18.3" fill="#111">摆杆</text>
<text x="438.8" y="703.4" font-size="18.3" fill="#111">螺栓</text>
<text x="475.9" y="703.8" font-size="20.0" fill="#111" text-anchor="start" textLength="8.5" lengthAdjust="spacingAndGlyphs">1</text>
<text x="506.4" y="893.0" font-size="18.3" fill="#111">直角螺栓</text>
<text x="551.6" y="944.6" font-size="18.3" fill="#111">螺母</text>
<text x="184.4" y="998.4" font-size="18.3" fill="#111">直螺栓</text>
<text x="544.6" y="757.8" font-size="21.0" fill="#111" text-anchor="start" textLength="22.6" lengthAdjust="spacingAndGlyphs">90</text>
<circle cx="571.4" cy="744.8" r="2.2" fill="none" stroke="#111" stroke-width="1"/>
<text x="343.0" y="572.2" font-size="15.5" fill="#111" text-anchor="start" textLength="8.0" lengthAdjust="spacingAndGlyphs">2</text>
<text x="598.6" y="921.3" font-size="15.5" fill="#111" text-anchor="start" textLength="8.0" lengthAdjust="spacingAndGlyphs">1</text>
<text x="119.2" y="916.0" font-size="19.5" fill="#111">附</text>
<text x="139.2" y="916.0" font-size="19.5" fill="#111">：</text>
<text x="158.2" y="916.0" font-size="19.5" fill="#111">国外常用的</text>
<text x="119.2" y="940.6" font-size="19.5" fill="#111">铰链关节安装固</text>
<text x="119.2" y="965.2" font-size="19.5" fill="#111">定方式</text>
<path d="M179.1,958.4 H189.7" stroke="#111" stroke-width="2.8"/><path d="M194.7,958.4 l-8,-6.2 l2.6,6.2 l-2.6,6.2 Z" fill="#111"/>
<text x="590.4" y="1104.4" font-size="20.4" fill="#111">图</text>
<text x="611.4" y="1104.0" font-size="21.0" fill="#111" text-anchor="start" textLength="21.0" lengthAdjust="spacingAndGlyphs">23</text>
<g id="notes">
<text x="107.2" y="1197.6" font-size="21.1" fill="#111">注：挂车厂根据生产现场自制高度阀连接件</text>
<text x="115.2" y="1243.8" font-size="22" fill="#111">①</text>
<text x="145.2" y="1243.4" font-size="20.5" fill="#111" text-anchor="start" textLength="10.0" lengthAdjust="spacingAndGlyphs">δ</text>
<text x="161.4" y="1243.4" font-size="20.5" fill="#111" text-anchor="start" textLength="21.4" lengthAdjust="spacingAndGlyphs">=6</text>
<text x="183.6" y="1243.4" font-size="21.4" fill="#111">钢板</text>
<text x="318.2" y="1243.8" font-size="22" fill="#111">②</text>
<text x="341.6" y="1243.4" font-size="21.4" fill="#111">角钢</text>
<path d="M404.0,1229.8 L390.0,1242.4 H406.6" stroke="#111" stroke-width="1.3" fill="none"/>
<text x="408.2" y="1243.4" font-size="20.5" fill="#111" text-anchor="start" textLength="45.0" lengthAdjust="spacingAndGlyphs">80x6</text>
<text x="714.2" y="1243.8" font-size="22" fill="#111">③</text>
<text x="737.6" y="1243.4" font-size="21.4" fill="#111">角钢</text>
<path d="M800.0,1229.8 L786.0,1242.4 H802.6" stroke="#111" stroke-width="1.3" fill="none"/>
<text x="804.2" y="1243.4" font-size="20.5" fill="#111" text-anchor="start" textLength="45.0" lengthAdjust="spacingAndGlyphs">80x6</text>
<text x="849.6" y="1243.4" font-size="21.4" fill="#111">或</text>
<path d="M890.4,1229.8 L876.4,1242.4 H893.0" stroke="#111" stroke-width="1.3" fill="none"/>
<text x="894.6" y="1243.4" font-size="20.5" fill="#111" text-anchor="start" textLength="45.0" lengthAdjust="spacingAndGlyphs">60x6</text>
<path d="M223.4,1319.8 H150 A30,34.1 0 0 0 150,1388 H223.4 Z" fill="none" stroke="#111" stroke-width="1.9"/>
<circle cx="154" cy="1353.9" r="6.4" fill="none" stroke="#111" stroke-width="1.4"/>
<path d="M154.2,1300.5 V1354 M223.4,1300.5 V1320 M223.4,1319.8 H243.6 M223.4,1388 H243.6" stroke="#111" stroke-width="1.1" fill="none"/>
<path d="M154.2,1306.4 H223.4" stroke="#111" stroke-width="1.3"/>
<polygon points="154.8,1306.4 172.3,1301.8 172.3,1311.0" fill="#111"/>
<polygon points="222.8,1306.4 205.3,1311.0 205.3,1301.8" fill="#111"/>
<text x="188.8" y="1298.8" font-size="20.0" fill="#111" text-anchor="middle" textLength="22.6" lengthAdjust="spacingAndGlyphs">30</text>
<path d="M238.0,1319.8 V1388.0" stroke="#111" stroke-width="1.3"/>
<polygon points="238.0,1320.4 242.6,1337.9 233.4,1337.9" fill="#111"/>
<polygon points="238.0,1387.4 233.4,1369.9 242.6,1369.9" fill="#111"/>
<text x="243.6" y="1361.0" font-size="20.0" fill="#111" text-anchor="start" textLength="22.6" lengthAdjust="spacingAndGlyphs">30</text>
<path d="M135.9,1327.5 L195.9,1420.6 H238.4" stroke="#111" stroke-width="1.1" fill="none"/>
<polygon points="150.4,1348.4 138.7,1338.1 145.8,1333.5" fill="#111"/>
<polygon points="157.8,1359.4 169.5,1369.7 162.4,1374.3" fill="#111"/>
<ellipse cx="211.2" cy="1408.0" rx="5.3" ry="4.6" fill="none" stroke="#111" stroke-width="1.5" transform="rotate(-15 211.2 1408.0)"/>
<path d="M208.9,1416.0 L213.8,1399.1" stroke="#111" stroke-width="1.5"/>
<text x="218.6" y="1414.8" font-size="19.6" fill="#111" text-anchor="start" textLength="10.6" lengthAdjust="spacingAndGlyphs">6</text>
<rect x="303.9" y="1257" width="163.0" height="175.4" fill="none" stroke="#111" stroke-width="1.8"/>
<path d="M303.9,1273.2 H466.9" stroke="#111" stroke-width="1.6" stroke-dasharray="18.6 17.6" fill="none"/>
<circle cx="334.0" cy="1342.2" r="7.9" fill="none" stroke="#111" stroke-width="1.5"/>
<circle cx="437.6" cy="1342.2" r="7.9" fill="none" stroke="#111" stroke-width="1.5"/>
<circle cx="344.7" cy="1412.6" r="7.9" fill="none" stroke="#111" stroke-width="1.5"/>
<circle cx="427.4" cy="1412.6" r="7.9" fill="none" stroke="#111" stroke-width="1.5"/>
<path d="M323.5,1342.2 H487.5 M334.0,1412.6 H487.5 M334.0,1330.4 V1487 M437.6,1330.4 V1487 M344.7,1400 V1450.6 M427.4,1400 V1450.6" stroke="#111" stroke-width="1.1" fill="none"/>
<path d="M344.7,1445.2 H427.4" stroke="#111" stroke-width="1.3"/>
<polygon points="345.3,1445.2 362.8,1440.6 362.8,1449.8" fill="#111"/>
<polygon points="426.8,1445.2 409.3,1449.8 409.3,1440.6" fill="#111"/>
<text x="386.0" y="1468.2" font-size="20.0" fill="#111" text-anchor="middle" textLength="22.4" lengthAdjust="spacingAndGlyphs">40</text>
<path d="M334.0,1482.0 H437.6" stroke="#111" stroke-width="1.3"/>
<polygon points="334.6,1482.0 352.1,1477.4 352.1,1486.6" fill="#111"/>
<polygon points="437.0,1482.0 419.5,1486.6 419.5,1477.4" fill="#111"/>
<text x="385.8" y="1504.8" font-size="20.0" fill="#111" text-anchor="middle" textLength="22.4" lengthAdjust="spacingAndGlyphs">50</text>
<path d="M481.1,1342.2 V1412.6" stroke="#111" stroke-width="1.3"/>
<polygon points="481.1,1342.8 485.7,1360.3 476.5,1360.3" fill="#111"/>
<polygon points="481.1,1412.0 476.5,1394.5 485.7,1394.5" fill="#111"/>
<text x="487.3" y="1384.2" font-size="20.0" fill="#111" text-anchor="start" textLength="44.6" lengthAdjust="spacingAndGlyphs">33. 5</text>
<path d="M404.8,1371 L481.6,1302 H571.6" stroke="#111" stroke-width="1.1" fill="none"/>
<polygon points="443.6,1336.8 452.6,1322.8 458.4,1329.4" fill="#111"/>
<polygon points="431.6,1347.6 422.6,1361.6 416.8,1355.0" fill="#111"/>
<text x="491.4" y="1295.6" font-size="19.6" fill="#111" text-anchor="start" textLength="16.4" lengthAdjust="spacingAndGlyphs">4-</text>
<ellipse cx="515.2" cy="1288.8" rx="5.3" ry="4.6" fill="none" stroke="#111" stroke-width="1.5" transform="rotate(-15 515.2 1288.8)"/>
<path d="M512.9,1296.8 L517.8,1279.9" stroke="#111" stroke-width="1.5"/>
<text x="522.4" y="1295.6" font-size="19.6" fill="#111" text-anchor="start" textLength="39.0" lengthAdjust="spacingAndGlyphs">8. 8</text>
<rect x="606.6" y="1257" width="415.2" height="175.4" fill="none" stroke="#111" stroke-width="1.8"/>
<path d="M606.6,1273.2 H1021.8" stroke="#111" stroke-width="1.6" stroke-dasharray="18.6 17.6" fill="none"/>
<circle cx="889.2" cy="1342.2" r="7.9" fill="none" stroke="#111" stroke-width="1.5"/>
<circle cx="992.8" cy="1342.2" r="7.9" fill="none" stroke="#111" stroke-width="1.5"/>
<circle cx="899.9" cy="1412.6" r="7.9" fill="none" stroke="#111" stroke-width="1.5"/>
<circle cx="982.6" cy="1412.6" r="7.9" fill="none" stroke="#111" stroke-width="1.5"/>
<path d="M878.7,1342.2 H1042.4 M889.2,1412.6 H1042.4 M889.2,1330.4 V1487 M992.8,1330.4 V1487 M899.9,1400 V1450.6 M982.6,1400 V1450.6" stroke="#111" stroke-width="1.1" fill="none"/>
<path d="M899.9,1445.2 H982.6" stroke="#111" stroke-width="1.3"/>
<polygon points="900.5,1445.2 918.0,1440.6 918.0,1449.8" fill="#111"/>
<polygon points="982.0,1445.2 964.5,1449.8 964.5,1440.6" fill="#111"/>
<text x="941.2" y="1468.2" font-size="20.0" fill="#111" text-anchor="middle" textLength="22.4" lengthAdjust="spacingAndGlyphs">40</text>
<path d="M889.2,1482.0 H992.8" stroke="#111" stroke-width="1.3"/>
<polygon points="889.8,1482.0 907.3,1477.4 907.3,1486.6" fill="#111"/>
<polygon points="992.2,1482.0 974.7,1486.6 974.7,1477.4" fill="#111"/>
<text x="941.0" y="1504.8" font-size="20.0" fill="#111" text-anchor="middle" textLength="22.4" lengthAdjust="spacingAndGlyphs">50</text>
<path d="M1036.0,1342.2 V1412.6" stroke="#111" stroke-width="1.3"/>
<polygon points="1036.0,1342.8 1040.6,1360.3 1031.4,1360.3" fill="#111"/>
<polygon points="1036.0,1412.0 1031.4,1394.5 1040.6,1394.5" fill="#111"/>
<text x="1042.2" y="1384.2" font-size="20.0" fill="#111" text-anchor="start" textLength="44.6" lengthAdjust="spacingAndGlyphs">33. 5</text>
<path d="M856.5,1370.5 L932.6,1301.8 H1022.8" stroke="#111" stroke-width="1.1" fill="none"/>
<polygon points="898.6,1332.6 907.5,1318.6 913.4,1325.1" fill="#111"/>
<polygon points="880.6,1348.8 871.7,1362.8 865.8,1356.3" fill="#111"/>
<text x="942.6" y="1295.6" font-size="19.6" fill="#111" text-anchor="start" textLength="16.4" lengthAdjust="spacingAndGlyphs">4-</text>
<ellipse cx="966.4" cy="1288.8" rx="5.3" ry="4.6" fill="none" stroke="#111" stroke-width="1.5" transform="rotate(-15 966.4 1288.8)"/>
<path d="M964.1,1296.8 L969.0,1279.9" stroke="#111" stroke-width="1.5"/>
<text x="973.6" y="1295.6" font-size="19.6" fill="#111" text-anchor="start" textLength="39.0" lengthAdjust="spacingAndGlyphs">8. 8</text>
</g>
<g id="footer">
<ellipse cx="128" cy="1612.5" rx="74.5" ry="38.5" fill="#9b9b9b"/>
<rect x="68.6" y="1607.4" width="15" height="9.4" fill="none" stroke="#fff" stroke-width="2.4"/>
<rect x="171.6" y="1607.4" width="15" height="9.4" fill="none" stroke="#fff" stroke-width="2.4"/>
<rect x="105.6" y="1590.6" width="12.8" height="37.8" fill="none" stroke="#fff" stroke-width="2.4"/>
<path d="M131.4,1619.4 V1627.8 H142.4 Q155,1627.6 155,1614.8 Q155,1602.6 144.8,1601.6 Q141,1601.4 138.8,1602.6 L140.8,1593.6 H154.4 V1590.8 H134.9 L131.9,1611.2" fill="none" stroke="#fff" stroke-width="2.5" stroke-linejoin="round" stroke-linecap="round"/>
<path d="M131.6,1611.6 H139.6 Q142.8,1611.8 142.8,1614.4 Q142.8,1617.4 138.6,1617.6 H131.6 Z" fill="none" stroke="#fff" stroke-width="2.2" stroke-linejoin="round"/>
<rect x="773" y="1610" width="426" height="2" fill="#222"/>
</g>
<text x="225" y="1619.5" font-size="17" font-weight="bold" fill="#e0231f">经营部电话</text>
<text x="323.5" y="1619.5" font-size="17" font-weight="bold" fill="#e0231f">：</text>
<text x="351.0" y="1619.5" font-size="17.0" fill="#e0231f" text-anchor="start" textLength="115.0" lengthAdjust="spacingAndGlyphs">0750-5966991</text>
<text x="487.5" y="1619.5" font-size="17.0" fill="#e0231f" text-anchor="start" textLength="66.5" lengthAdjust="spacingAndGlyphs">5966985</text>
<text x="567" y="1619.5" font-size="17" font-weight="bold" fill="#e0231f">传真</text>
<text x="610" y="1619.5" font-size="17" font-weight="bold" fill="#e0231f">：</text>
<text x="634.5" y="1619.5" font-size="17.0" fill="#e0231f" text-anchor="start" textLength="116.0" lengthAdjust="spacingAndGlyphs">0750-5966980</text>
</svg>
</body></html>
